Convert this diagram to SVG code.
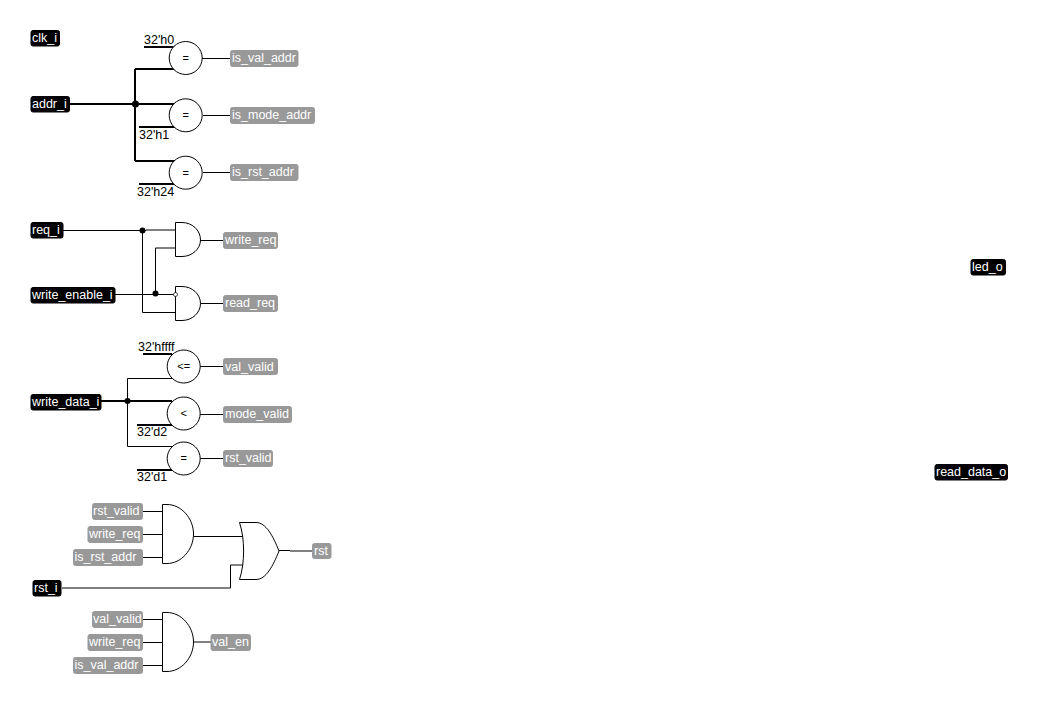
<svg xmlns="http://www.w3.org/2000/svg" width="1037" height="704" viewBox="0 0 1037 704">
<style>
text{font-family:"Liberation Sans",Arial,sans-serif;font-size:12.5px}
.port rect{fill:#000;stroke:#000;stroke-width:1}
.sig rect{fill:#999;stroke:#999;stroke-width:1}
.port text,.sig text{fill:#fff}
.gate{fill:#fff;stroke:#000;stroke-width:1}
.c{fill:none;stroke:#000;stroke-width:1}
.b{fill:none;stroke:#000;stroke-width:2}
.k{fill:#000;text-anchor:start}
text.op{fill:#000;text-anchor:middle;font-size:11px}
</style>
<rect width="1037" height="704" fill="#fff"/>
<g id="connectors">
<path class="b" d="M70 104H135M135 69V161M135 69H174M135 104H175M135 161H175M144 47H175M139 127H175M139 184H175"/>
<path class="c" d="M202 58.500H231M203 115.500H231M203 172.500H231"/>
<circle cx="135.500" cy="104" r="3.500"/>
<path class="c" d="M63 230.500H146M146 230H175M142.500 230V312.500H175M115 294.500H175M155.500 294V248H175M200 240.500H224M200 303.500H224"/>
<circle cx="142.500" cy="230.500" r="3"/>
<circle cx="155.500" cy="293.500" r="3"/>
<path class="c" d="M127.500 401V378.500H173M127.500 401V446.500H173M200 366.500H224M200 414.500H224M200 458.500H224"/>
<path class="b" d="M101 401H172M143 354H172M137 425H172M137 470H172"/>
<circle cx="127.500" cy="401" r="3"/>
<path class="c" d="M142 511.500H163M142 534.500H163M142 557.500H163M194 536.500H243M279 550.500H290M290 551H313M62 588H230.500V565H243"/>
<path class="c" d="M142 619.500H163M142 642.500H163M142 665.500H163M194 642H211"/>
</g>
<g id="clk_i" class="port"><rect x="31" y="30.500" width="28.500" height="15.500" rx="2"/><text x="32" y="42">clk_i</text></g>
<g id="addr_i" class="port"><rect x="31" y="96.500" width="38.500" height="15.500" rx="2"/><text x="32" y="108">addr_i</text></g>
<g id="req_i" class="port"><rect x="31" y="222.500" width="32" height="15.500" rx="2"/><text x="32" y="234">req_i</text></g>
<g id="write_enable_i" class="port"><rect x="31" y="287.500" width="84" height="15.500" rx="2"/><text x="32" y="299">write_enable_i</text></g>
<g id="write_data_i" class="port"><rect x="31" y="394.500" width="70" height="15.500" rx="2"/><text x="32" y="406">write_data_i</text></g>
<g id="rst_i" class="port"><rect x="33" y="580.500" width="28" height="15.500" rx="2"/><text x="34" y="592">rst_i</text></g>
<g id="led_o" class="port"><rect x="971" y="259.500" width="34.500" height="15.500" rx="2"/><text x="972" y="271">led_o</text></g>
<g id="read_data_o" class="port"><rect x="935" y="464.500" width="72.500" height="15.500" rx="2"/><text x="936" y="476">read_data_o</text></g>
<g id="eq_val"><circle class="gate" cx="185.700" cy="58" r="16.500"/><text class="op" x="185.700" y="62">=</text></g>
<g id="eq_mode"><circle class="gate" cx="185.700" cy="115.300" r="16.500"/><text class="op" x="185.700" y="119">=</text></g>
<g id="eq_rst"><circle class="gate" cx="185.700" cy="172.700" r="16.500"/><text class="op" x="185.700" y="177">=</text></g>
<g id="k0"><text class="k" x="144" y="44">32'h0</text></g>
<g id="k1"><text class="k" x="139" y="139">32'h1</text></g>
<g id="k24"><text class="k" x="137" y="196">32'h24</text></g>
<g id="is_val_addr" class="sig"><rect x="230.500" y="50.500" width="67.500" height="16" rx="2"/><text x="232" y="62">is_val_addr</text></g>
<g id="is_mode_addr" class="sig"><rect x="230.500" y="107.500" width="84" height="16" rx="2"/><text x="232" y="119">is_mode_addr</text></g>
<g id="is_rst_addr" class="sig"><rect x="230.500" y="164.500" width="67.500" height="16" rx="2"/><text x="232" y="176">is_rst_addr</text></g>
<g id="and_write"><path class="gate" d="M175.500 222.500H182C192 222.500 200.500 230 200.500 240C200.500 249 192 256.500 182 256.500H175.500Z"/></g>
<g id="and_read"><path class="gate" d="M175.500 286.500H182C192 286.500 200.500 294 200.500 303.500C200.500 313 192 320.500 182 320.500H175.500Z"/><circle cx="175.500" cy="294.500" r="2" fill="#fff" stroke="#000" stroke-width="0.700"/></g>
<g id="write_req" class="sig"><rect x="223.500" y="232.500" width="54" height="16" rx="2"/><text x="225" y="244">write_req</text></g>
<g id="read_req" class="sig"><rect x="223.500" y="295.500" width="54" height="16" rx="2"/><text x="225" y="307">read_req</text></g>
<g id="le_val"><circle class="gate" cx="183.700" cy="366.500" r="16.500"/><text class="op" x="183.700" y="370">&lt;=</text></g>
<g id="lt_mode"><circle class="gate" cx="183.700" cy="413.500" r="16.500"/><text class="op" x="183.700" y="417">&lt;</text></g>
<g id="eq_data"><circle class="gate" cx="183.700" cy="458.500" r="16.500"/><text class="op" x="183.700" y="462">=</text></g>
<g id="kffff"><text class="k" x="138" y="351">32'hffff</text></g>
<g id="kd2"><text class="k" x="137" y="436">32'd2</text></g>
<g id="kd1"><text class="k" x="137" y="481">32'd1</text></g>
<g id="val_valid" class="sig"><rect x="223.500" y="358.500" width="54" height="16" rx="2"/><text x="225" y="371">val_valid</text></g>
<g id="mode_valid" class="sig"><rect x="223.500" y="406.500" width="68" height="16" rx="2"/><text x="225" y="418">mode_valid</text></g>
<g id="rst_valid" class="sig"><rect x="223.500" y="450.500" width="49" height="16" rx="2"/><text x="225" y="462">rst_valid</text></g>
<g id="and_rst"><path class="gate" d="M162.500 504.500H167C181 504.500 193.500 518 193.500 534C193.500 550 181 563.500 167 563.500H162.500Z"/></g>
<g id="or_rst"><path class="gate" d="M239.500 522.500H256C266 522.500 273 536 279 551C273 566 266 579.500 256 579.500H239.500C245 563 245 539 239.500 522.500Z"/></g>
<g id="and_en"><path class="gate" d="M162.500 612.500H167C181 612.500 193.500 626 193.500 642C193.500 658 181 671.500 167 671.500H162.500Z"/></g>
<g id="s_rst_valid" class="sig"><rect x="92.500" y="503.500" width="50" height="16" rx="2"/><text x="93" y="515">rst_valid</text></g>
<g id="s_write_req1" class="sig"><rect x="88" y="526.500" width="54.500" height="16" rx="2"/><text x="89" y="538">write_req</text></g>
<g id="s_is_rst_addr" class="sig"><rect x="73.500" y="549.500" width="69" height="16" rx="2"/><text x="74.500" y="561">is_rst_addr</text></g>
<g id="s_rst" class="sig"><rect x="312.500" y="543.500" width="18.500" height="15" rx="2"/><text x="314" y="555">rst</text></g>
<g id="s_val_valid" class="sig"><rect x="92.500" y="611.500" width="50" height="16" rx="2"/><text x="93" y="623">val_valid</text></g>
<g id="s_write_req2" class="sig"><rect x="88" y="634.500" width="54.500" height="16" rx="2"/><text x="89" y="646">write_req</text></g>
<g id="s_is_val_addr" class="sig"><rect x="73.500" y="657.500" width="69" height="16" rx="2"/><text x="74.500" y="669">is_val_addr</text></g>
<g id="s_val_en" class="sig"><rect x="211" y="634.500" width="39.500" height="16" rx="2"/><text x="212" y="646">val_en</text></g>
</svg>
